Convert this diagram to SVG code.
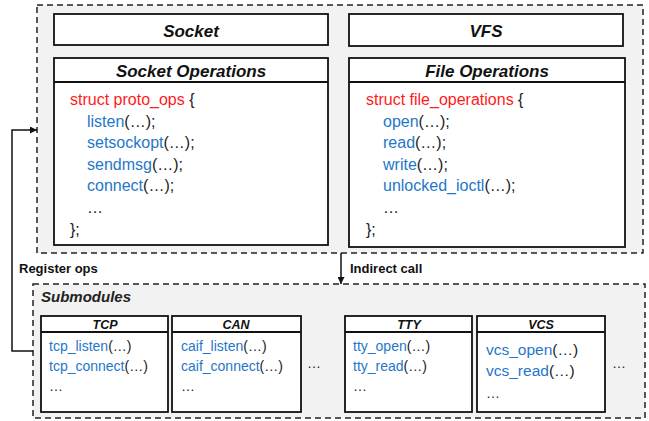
<svg xmlns="http://www.w3.org/2000/svg" width="649" height="421" viewBox="0 0 649 421">
<defs>
<style>
text{font-family:"Liberation Sans",Arial,sans-serif;fill:#222}
.cont{fill:#f2f2f2;stroke:#222;stroke-width:1.5;stroke-dasharray:6 4}
.box{fill:#fff;stroke:#111;stroke-width:1.8}
.ttl{font-weight:bold;font-style:italic;text-anchor:middle;fill:#111}
.code{font-size:16px}
.sub{font-size:14px}
.red{fill:#ff1a1a}
.blue{fill:#1f77c9}
.lbl{font-weight:bold;font-size:13px;fill:#111}
.conn{fill:none;stroke:#111;stroke-width:1.5}
</style>
<marker id="ah" viewBox="0 0 10 10" refX="10" refY="5" markerWidth="7" markerHeight="7" orient="auto" markerUnits="userSpaceOnUse">
<path d="M0,0 L10,5 L0,10 z" fill="#111"/>
</marker>
</defs>
<rect width="649" height="421" fill="#fff"/>

<g id="top-container">
<rect class="cont" x="37" y="5" width="606" height="248"/>
</g>

<g id="socket">
<rect class="box" x="54" y="14" width="274" height="31"/>
<text class="ttl" x="191" y="37" font-size="17">Socket</text>
</g>

<g id="vfs">
<rect class="box" x="349" y="14" width="274" height="32"/>
<text class="ttl" x="486" y="37" font-size="17">VFS</text>
</g>

<g id="socket-ops">
<rect class="box" x="54" y="58" width="274" height="187"/>
<line x1="54" y1="82" x2="328" y2="82" stroke="#111" stroke-width="1.8"/>
<text class="ttl" x="191" y="77" font-size="17">Socket Operations</text>
<text class="code" x="70" y="105"><tspan class="red">struct proto_ops</tspan> {</text>
<text class="code" x="87" y="127"><tspan class="blue">listen</tspan>(…);</text>
<text class="code" x="87" y="148"><tspan class="blue">setsockopt</tspan>(…);</text>
<text class="code" x="87" y="170"><tspan class="blue">sendmsg</tspan>(…);</text>
<text class="code" x="87" y="191"><tspan class="blue">connect</tspan>(…);</text>
<text class="code" x="87" y="213">…</text>
<text class="code" x="70" y="235">};</text>
</g>

<g id="file-ops">
<rect class="box" x="349" y="58" width="276" height="189"/>
<line x1="349" y1="82" x2="625" y2="82" stroke="#111" stroke-width="1.8"/>
<text class="ttl" x="487" y="77" font-size="17">File Operations</text>
<text class="code" x="366" y="105"><tspan class="red">struct file_operations</tspan> {</text>
<text class="code" x="383" y="127"><tspan class="blue">open</tspan>(…);</text>
<text class="code" x="383" y="148"><tspan class="blue">read</tspan>(…);</text>
<text class="code" x="383" y="170"><tspan class="blue">write</tspan>(…);</text>
<text class="code" x="383" y="191"><tspan class="blue">unlocked_ioctl</tspan>(…);</text>
<text class="code" x="383" y="213">…</text>
<text class="code" x="366" y="235">};</text>
</g>

<g id="submodules">
<rect class="cont" x="33" y="284" width="612" height="134"/>
<text x="41" y="302" font-size="15" font-weight="bold" font-style="italic" fill="#111">Submodules</text>
</g>

<g id="tcp">
<rect class="box" x="41" y="316" width="127" height="96"/>
<line x1="41" y1="332" x2="168" y2="332" stroke="#111" stroke-width="1.8"/>
<text class="ttl" x="105" y="329" font-size="12.5">TCP</text>
<text class="sub" x="49" y="351"><tspan class="blue">tcp_listen</tspan>(…)</text>
<text class="sub" x="49" y="371"><tspan class="blue">tcp_connect</tspan>(…)</text>
<text class="sub" x="49" y="391">…</text>
</g>

<g id="can">
<rect class="box" x="172" y="316" width="129" height="96"/>
<line x1="172" y1="332" x2="301" y2="332" stroke="#111" stroke-width="1.8"/>
<text class="ttl" x="236" y="329" font-size="12.5">CAN</text>
<text class="sub" x="181" y="351"><tspan class="blue">caif_listen</tspan>(…)</text>
<text class="sub" x="181" y="371"><tspan class="blue">caif_connect</tspan>(…)</text>
<text class="sub" x="181" y="391">…</text>
</g>

<text x="307" y="368" font-size="14">…</text>

<g id="tty">
<rect class="box" x="345" y="316" width="127" height="96"/>
<line x1="345" y1="332" x2="472" y2="332" stroke="#111" stroke-width="1.8"/>
<text class="ttl" x="409" y="329" font-size="12.5">TTY</text>
<text class="sub" x="353" y="351"><tspan class="blue">tty_open</tspan>(…)</text>
<text class="sub" x="353" y="371"><tspan class="blue">tty_read</tspan>(…)</text>
<text class="sub" x="353" y="391">…</text>
</g>

<g id="vcs">
<rect class="box" x="477" y="316" width="128" height="96"/>
<line x1="477" y1="332" x2="605" y2="332" stroke="#111" stroke-width="1.8"/>
<text class="ttl" x="541" y="329" font-size="12.5">VCS</text>
<text x="486" y="355" font-size="15.5"><tspan class="blue">vcs_open</tspan>(…)</text>
<text x="486" y="376" font-size="15.5"><tspan class="blue">vcs_read</tspan>(…)</text>
<text x="486" y="398" font-size="14">…</text>
</g>

<text x="612" y="368" font-size="14">…</text>

<g id="connectors">
<polyline class="conn" points="33,351 12,351 12,130 37,130" marker-end="url(#ah)"/>
<line class="conn" x1="341" y1="253" x2="341" y2="284" marker-end="url(#ah)"/>
<text class="lbl" x="19" y="273">Register ops</text>
<text class="lbl" x="350" y="273">Indirect call</text>
</g>
</svg>
